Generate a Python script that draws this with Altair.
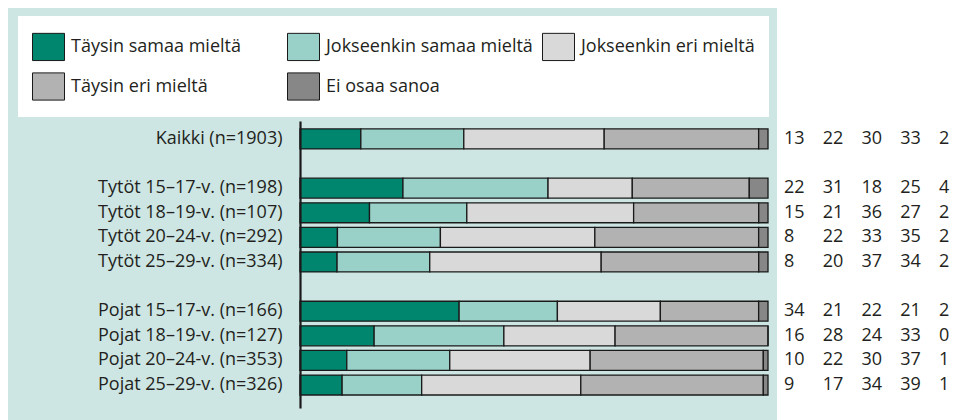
import altair as alt
import pandas as pd

rows = [
    "Kaikki (n=1903)",
    "Tytöt 15–17-v. (n=198)",
    "Tytöt 18–19-v. (n=107)",
    "Tytöt 20–24-v. (n=292)",
    "Tytöt 25–29-v. (n=334)",
    "Pojat 15–17-v. (n=166)",
    "Pojat 18–19-v. (n=127)",
    "Pojat 20–24-v. (n=353)",
    "Pojat 25–29-v. (n=326)",
]
categories = [
    "Täysin samaa mieltä",
    "Jokseenkin samaa mieltä",
    "Jokseenkin eri mieltä",
    "Täysin eri mieltä",
    "Ei osaa sanoa",
]
taysin_samaa = [13, 22, 15, 8, 8, 34, 16, 10, 9]
jokseenkin_samaa = [22, 31, 21, 22, 20, 21, 28, 22, 17]
jokseenkin_eri = [30, 18, 36, 33, 37, 22, 24, 30, 34]
taysin_eri = [33, 25, 27, 35, 34, 21, 33, 37, 39]
ei_osaa = [2, 4, 2, 2, 2, 2, 0, 1, 1]

series = [taysin_samaa, jokseenkin_samaa, jokseenkin_eri, taysin_eri, ei_osaa]
colors = ["#00866f", "#99d0c8", "#d9d9d9", "#b2b2b2", "#878787"]
panel_bg = "#cde6e3"
FONT = "Open Sans"
FS = 18

y_domain = [rows[0], " ", *rows[1:5], "  ", *rows[5:]]

records = []
for ci, (cat, vals) in enumerate(zip(categories, series)):
    for r, v in zip(rows, vals):
        records.append({"row": r, "cat": cat, "idx": ci, "value": v, "col": f"c{ci}"})
df = pd.DataFrame(records)

W = 468
H = 287

yenc = alt.Y(
    "row:N",
    scale=alt.Scale(domain=y_domain, paddingInner=0.19, paddingOuter=0.426, align=0.38),
    axis=alt.Axis(
        title=None, ticks=False, labelPadding=18, labelFontSize=FS, labelFont=FONT,
        labelColor="#231f20", domainColor="#1a1a1a", domainWidth=2.2, grid=False,
        labelLimit=400, zindex=1,
    ),
)

panel = alt.Chart(alt.Data(values=[{"a": 1}])).mark_rect(color=panel_bg).encode(
    x=alt.value(-292), x2=alt.value(477), y=alt.value(-113), y2=alt.value(H + 40)
)

bars = alt.Chart(df).mark_bar(stroke="#1a1a1a", strokeWidth=1.3).encode(
    x=alt.X("value:Q", stack="normalize", axis=None, scale=alt.Scale(domain=[0, 1])),
    y=yenc,
    color=alt.Color(
        "cat:N",
        scale=alt.Scale(domain=categories, range=colors),
        legend=alt.Legend(
            title=None, orient="none", legendX=-282, legendY=-105,
            direction="horizontal", columns=3, gridAlign="all",
            fillColor="white", padding=14,
            symbolType="M-1,-0.85H1V0.85H-1Z", symbolSize=1024,
            symbolStrokeColor="#1a1a1a", symbolStrokeWidth=1, symbolOpacity=1,
            labelFont=FONT, labelFontSize=FS, labelColor="#231f20",
            labelOffset=6, rowPadding=7, columnPadding=7, labelLimit=400,
        ),
    ),
    order=alt.Order("idx:Q", sort="ascending"),
)

nums = alt.Chart(df).mark_text(
    align="left", baseline="middle", font=FONT, fontSize=FS, color="#231f20"
).encode(
    x=alt.X("col:N", scale=alt.Scale(type="point", range=[484, 639], padding=0), axis=None),
    y=alt.Y("row:N"),
    text="value:Q",
)

chart = (
    alt.layer(panel, bars, nums)
    .resolve_scale(x="independent")
    .properties(width=W, height=H, padding=0, background="white")
    .configure_view(stroke=None)
)

chart.save("out.html", embed_options={"renderer": "svg", "actions": False})
